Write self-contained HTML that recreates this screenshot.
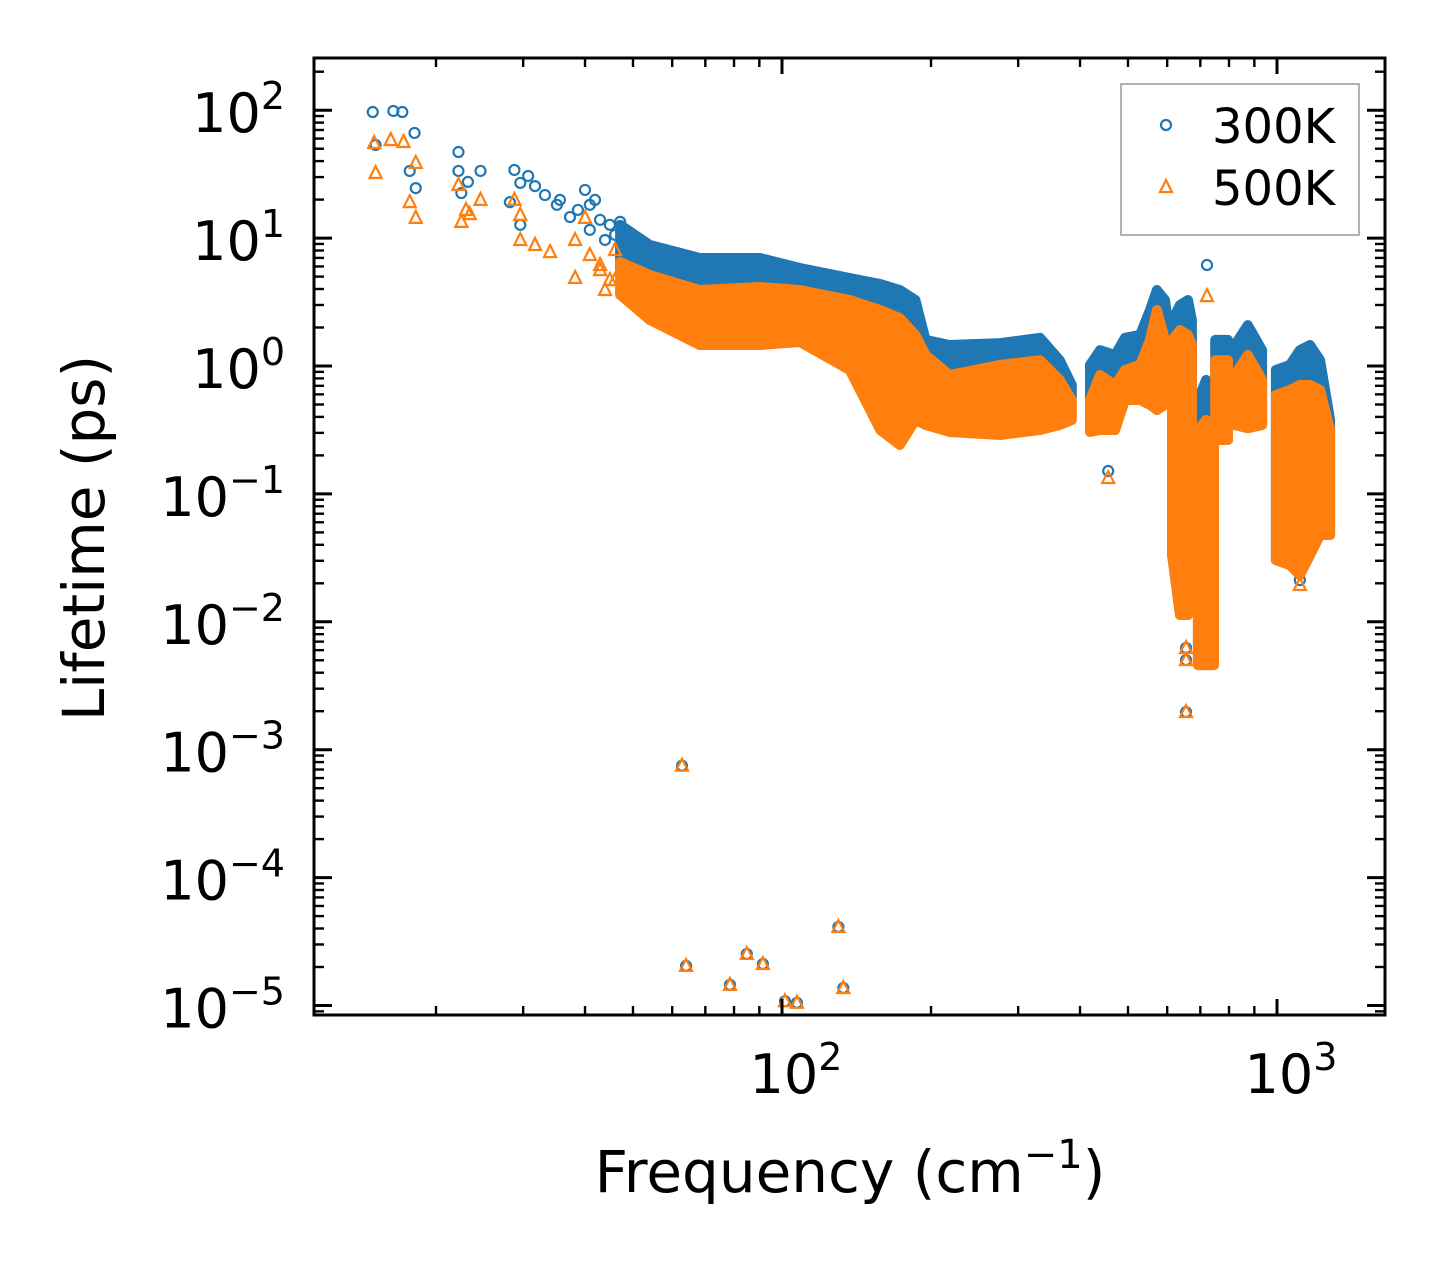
<!DOCTYPE html>
<html><head><meta charset="utf-8">
<style>
html,body{margin:0;padding:0;background:#fff;}
svg{display:block;}
text{font-family:"DejaVu Sans","Liberation Sans",sans-serif;}
</style></head>
<body>
<svg id="chart" width="1443" height="1265" viewBox="0 0 1443 1265" xmlns="http://www.w3.org/2000/svg">
<rect x="0" y="0" width="1443" height="1265" fill="#fff"/>
<g id="bands300"></g>
<g id="pts300"></g>
<g id="bands500"></g>
<g id="pts500"></g>
<g id="axes"></g>
<text x="850" y="1192" font-size="58" text-anchor="middle">Frequency (cm<tspan font-size="40" dy="-24">−1</tspan><tspan dy="24">)</tspan></text>
<text transform="translate(104,538) rotate(-90)" font-size="58" text-anchor="middle">Lifetime (ps)</text>
<g>
<rect x="1121" y="84" width="238" height="151" fill="#fff" stroke="#999" stroke-width="1.5"/>
<circle cx="1166" cy="125" r="5" fill="none" stroke="#1f77b4" stroke-width="2.2"/>
<text x="1212" y="143" font-size="48">300K</text>
<polygon points="1166,180 1172,192 1160,192" fill="none" stroke="#ff7f0e" stroke-width="2.2"/>
<text x="1212" y="205" font-size="48">500K</text>
</g>
</svg>
<script>
// ---- data ----
const pts300 = [[14.9,96.8],[15.1,53.5],[16.4,98.6],[17.1,96.8],[18.1,66.4],[17.7,33.5],[18.2,24.6],[22.2,47.1],[22.2,33.5],[22.5,22.5],[23.2,27.5],[24.6,33.5],[28.8,34.1],[29.6,27.0],[30.7,30.6],[31.7,25.5],[33.2,21.7],[35.1,18.2],[35.6,19.9],[28.2,19.1],[29.6,12.7],[37.3,14.6],[40.0,23.8],[41.9,19.9],[38.7,16.6],[42.9,13.9],[44.9,12.7],[47.1,13.4],[51.7,9.67],[40.9,18.2],[40.9,11.6],[43.9,9.67],[46.0,10.6],[62.8,7.5e-4],[64.0,2.04e-5],[78.5,1.45e-5],[84.9,2.53e-5],[91.5,2.11e-5],[101.4,1.08e-5],[107.2,1.05e-5],[130,4.11e-5],[133,1.37e-5],[456,0.151],[722,6.16],[655,6.24e-3],[655,5.02e-3],[655,1.97e-3],[1112,0.0212]];
const pts500 = [[15.0,55.4],[15.1,32.3],[16.2,58.5],[17.2,56.4],[17.7,19.1],[18.2,14.4],[18.2,38.7],[22.2,26.0],[22.5,13.4],[23.0,16.6],[23.4,15.4],[24.6,19.9],[28.8,19.9],[29.6,15.2],[29.6,9.67],[31.7,8.83],[34.0,7.78],[38.2,4.88],[38.2,9.67],[40.0,14.4],[42.9,6.16],[44.9,4.70],[51.7,3.59],[40.9,7.37],[42.9,5.62],[43.9,3.93],[46.0,8.07],[46.0,4.70],[62.8,7.5e-4],[64.0,2.04e-5],[78.5,1.45e-5],[84.9,2.53e-5],[91.5,2.11e-5],[101.4,1.08e-5],[107.2,1.05e-5],[130,4.11e-5],[133,1.37e-5],[456,0.133],[722,3.52],[655,6.24e-3],[655,5.02e-3],[655,1.97e-3],[1112,0.0194]];
// dense bands: [freq, low, high]
const band300 = [
 [[47.1,5.0,12.7],[54.1,2.74,8.83],[68.2,1.75,6.99],[90.3,1.66,6.99],[108.7,1.66,5.84],[137,1.11,4.88],[158,0.378,4.38],[173,0.264,3.93],[186,0.414,3.28],[195,0.496,1.60],[218,0.542,1.46],[276,0.542,1.51],[332,0.593,1.66],[364,0.542,1.11],[385,0.542,0.71]],
 [[419,0.378,1.02],[439,0.453,1.33],[471,0.542,1.22],[493,0.593,1.66],[529,0.593,1.75],[554,0.593,2.74],[572,0.593,3.93],[594,0.542,3.28],[608,0.542,1.60]],
 [[614,0.0333,2.29],[637,0.0113,3.0],[661,0.0113,3.28],[673,0.0896,2.29]],
 [[692,0.00459,0.542],[719,0.00459,0.778],[746,0.00459,0.593]],
 [[750,0.264,1.6],[796,0.264,1.6]],
 [[822,0.346,1.46],[873,0.327,2.09],[933,0.346,1.33]],
 [[995,0.0304,0.93],[1062,0.0278,1.02],[1112,0.0232,1.33],[1166,0.0333,1.46],[1222,0.0477,1.11],[1280,0.0477,0.378]]
];
const band500 = [
 [[47.1,3.6,6.50],[54.1,2.29,5.15],[68.2,1.46,3.93],[90.3,1.46,4.15],[108.7,1.54,3.93],[137,0.93,3.28],[158,0.316,2.74],[173,0.241,2.37],[186,0.378,1.75],[195,0.346,1.22],[218,0.305,0.851],[276,0.289,1.02],[332,0.316,1.11],[364,0.346,0.778],[385,0.378,0.542]],
 [[419,0.305,0.542],[439,0.316,0.851],[471,0.316,0.71],[493,0.542,0.93],[529,0.542,1.02],[554,0.496,1.6],[572,0.453,2.74],[594,0.496,1.6],[608,0.542,0.93]],
 [[614,0.0333,1.6],[637,0.0113,1.91],[661,0.0113,1.75],[673,0.0896,1.46]],
 [[692,0.00459,0.316],[719,0.00459,0.378],[746,0.00459,0.316]],
 [[750,0.264,1.11],[796,0.264,1.11]],
 [[822,0.346,0.851],[873,0.327,1.22],[933,0.346,0.778]],
 [[995,0.0304,0.593],[1062,0.0278,0.649],[1112,0.0232,0.71],[1166,0.0333,0.71],[1222,0.0477,0.649],[1280,0.0477,0.316]]
];
const xTickVals = [100, 1000];
const xTickLabels = ["2", "3"];
const yTickVals = [100, 10, 1, 0.1, 0.01, 0.001, 0.0001, 0.00001];
const yTickLabels = ["2", "1", "0", "−1", "−2", "−3", "−4", "−5"];

// ---- axes ----
const L=314, R=1385, T=58, B=1015;
const X0=782, XD=495, Y0=366, YD=127.9;
function sx(f){ return X0 + XD*(Math.log10(f)-2); }
function sy(v){ return Y0 - YD*Math.log10(v); }
const NS='http://www.w3.org/2000/svg';
function mk(tag, attrs, parent){ const e=document.createElementNS(NS,tag); for(const k in attrs) e.setAttribute(k,attrs[k]); parent.appendChild(e); return e; }

function drawBands(bands, gid, color, nm){
  const g=document.getElementById(gid);
  bands.forEach(seg=>{
    const up=seg.map(d=>sx(d[0]).toFixed(1)+','+sy(d[2]).toFixed(1));
    const lo=seg.slice().reverse().map(d=>sx(d[0]).toFixed(1)+','+sy(d[1]).toFixed(1));
    const p=mk('polygon',{points:up.concat(lo).join(' '),fill:color,stroke:color,'stroke-width':10,'stroke-linejoin':'round'},g);
    
    
  });
}
function drawPts(pts, gid, color, tri){
  const g=document.getElementById(gid);
  pts.forEach(d=>{
    const x=sx(d[0]), y=sy(d[1]);
    let e;
    if(tri) e=mk('polygon',{points:`${x},${y-7} ${x+6},${y+5} ${x-6},${y+5}`,fill:'none',stroke:color,'stroke-width':2.2},g);
    else e=mk('circle',{cx:x,cy:y,r:5,fill:'none',stroke:color,'stroke-width':2.2},g);
    
    
  });
}
drawBands(band300,'bands300','#1f77b4','dense-cluster-300k');
drawPts(pts300,'pts300','#1f77b4',false);
drawBands(band500,'bands500','#ff7f0e','dense-cluster-500k');
drawPts(pts500,'pts500','#ff7f0e',true);

const ax=document.getElementById('axes');
function line(x1,y1,x2,y2,w){ mk('line',{x1,y1,x2,y2,stroke:'#000','stroke-width':w},ax); }
for(let dec=1; dec<=3; dec++){
  for(let k=1;k<=9;k++){
    const f=k*Math.pow(10,dec); const x=sx(f);
    if(x<L||x>R) continue;
    const len=(k===1)?16:9, w=(k===1)?3:2.4;
    line(x,B,x,B-len,w); line(x,T,x,T+len,w);
  }
}
for(let dec=-6; dec<=2; dec++){
  for(let k=1;k<=9;k++){
    const v=k*Math.pow(10,dec); const y=sy(v);
    if(y<T||y>B) continue;
    const len=(k===1)?18:10, w=(k===1)?3:2.4;
    line(L,y,L+len,y,w); line(R,y,R-len,y,w);
  }
}
xTickVals.forEach((v,i)=>{
  const t=mk('text',{x:sx(v)+14,y:1093,'font-size':54,'text-anchor':'middle'},ax);
  
  
  t.innerHTML='10<tspan font-size="38" dy="-23">'+xTickLabels[i]+'</tspan>';
});
yTickVals.forEach((v,i)=>{
  const t=mk('text',{x:285,y:sy(v)+22,'font-size':54,'text-anchor':'end'},ax);
  
  
  t.innerHTML='10<tspan font-size="38" dy="-23">'+yTickLabels[i]+'</tspan>';
});
const fr=mk('rect',{x:L,y:T,width:R-L,height:B-T,fill:'none',stroke:'#000','stroke-width':3},ax);


</script>
</body></html>
